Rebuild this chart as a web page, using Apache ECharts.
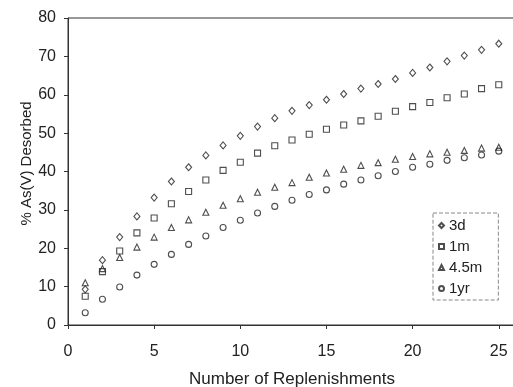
<!DOCTYPE html>
<html>
<head>
<meta charset="utf-8">
<script src="https://cdn.jsdelivr.net/npm/echarts@6/dist/echarts.min.js"></script>
<style>
  html, body { margin: 0; padding: 0; background: #fff; }
  #chart { width: 513px; height: 387px; }
</style>
</head>
<body>
<div id="chart"></div>
<script>
// number of replenishments
var replenishments = [1, 2, 3, 4, 5, 6, 7, 8, 9, 10, 11, 12, 13, 14, 15, 16, 17, 18, 19, 20, 21, 22, 23, 24, 25]

// % As(V) desorbed, per aging time
var desorbed3d = [9.3, 16.9, 22.9, 28.3, 33.2, 37.4, 41.1, 44.2, 46.8, 49.3, 51.7, 53.9, 55.8, 57.3, 58.7, 60.2, 61.6, 62.8, 64.1, 65.7, 67.1, 68.7, 70.2, 71.7, 73.3]
var desorbed1m = [7.5, 13.9, 19.3, 24.0, 27.9, 31.6, 34.8, 37.8, 40.3, 42.4, 44.8, 46.7, 48.2, 49.7, 51.0, 52.1, 53.2, 54.4, 55.7, 56.9, 58.0, 59.2, 60.2, 61.6, 62.6]
var desorbed45m = [11.0, 14.7, 17.6, 20.3, 22.9, 25.4, 27.4, 29.4, 31.2, 32.9, 34.6, 35.9, 37.1, 38.5, 39.6, 40.6, 41.6, 42.3, 43.2, 43.9, 44.6, 45.0, 45.5, 46.1, 46.3]
var desorbed1yr = [3.2, 6.7, 9.9, 13.0, 15.8, 18.4, 21.0, 23.2, 25.4, 27.3, 29.2, 30.9, 32.5, 34.0, 35.2, 36.7, 37.8, 38.9, 40.0, 41.1, 41.9, 42.9, 43.6, 44.3, 45.3]

var seriesNames = ['3d', '1m', '4.5m', '1yr']

function pairs(ys) {
  return replenishments.map(function (x, i) { return [x, ys[i]] })
}

var font = 'Liberation Sans, Arial, sans-serif'
var ink = '#222'

function mark(name, data, symbol, size) {
  return {
    name: name,
    type: 'scatter',
    data: pairs(data),
    symbol: symbol,
    symbolSize: size,
    itemStyle: {
      color: 'rgba(0,0,0,0)',
      borderColor: ink,
      borderWidth: 1.1
    }
  }
}

var chart = echarts.init(document.getElementById('chart'))
chart.setOption({
  animation: false,
  backgroundColor: '#fff',
  grid: {
    left: 68,
    top: 18,
    right: -3,
    bottom: 62,
    outerBoundsMode: 'none',
    show: true,
    borderColor: '#333',
    borderWidth: 1
  },
  legend: {
    data: seriesNames,
    orient: 'vertical',
    left: 433,
    top: 213,
    padding: [5, 16, 4, 5],
    itemGap: 6,
    itemWidth: 5,
    itemHeight: 5,
    borderColor: '#888',
    borderType: 'dashed',
    borderWidth: 1,
    textStyle: { fontFamily: font, fontSize: 15, color: ink }
  },
  xAxis: {
    type: 'value',
    min: 0,
    max: 26,
    interval: 5,
    name: 'Number of Replenishments',
    nameLocation: 'middle',
    nameGap: 46,
    nameMoveOverlap: false,
    nameTextStyle: { fontFamily: font, fontSize: 17, color: ink },
    axisLine: { lineStyle: { color: '#333' } },
    axisTick: { show: true, length: 4, lineStyle: { color: '#333' } },
    axisLabel: {
      fontFamily: font, fontSize: 16, color: ink, margin: 19,
      formatter: function (v) { return v > 25 ? '' : v }
    },
    splitLine: { show: false }
  },
  yAxis: {
    type: 'value',
    min: 0,
    max: 80,
    interval: 10,
    name: '% As(V) Desorbed',
    nameLocation: 'middle',
    nameGap: 34,
    nameMoveOverlap: false,
    nameRotate: 90,
    nameTextStyle: { fontFamily: font, fontSize: 15, color: ink, padding: [0, 0, 0, 16] },
    axisLine: { show: true, lineStyle: { color: '#333' } },
    axisTick: { show: true, length: 4, lineStyle: { color: '#333' } },
    axisLabel: { fontFamily: font, fontSize: 16, color: ink, margin: 12 },
    splitLine: { show: false }
  },
  series: [
    mark('3d', desorbed3d, 'diamond', [6, 7]),
    mark('1m', desorbed1m, 'rect', 6),
    mark('4.5m', desorbed45m, 'triangle', 6),
    mark('1yr', desorbed1yr, 'circle', 6)
  ]
})
</script>
</body>
</html>
